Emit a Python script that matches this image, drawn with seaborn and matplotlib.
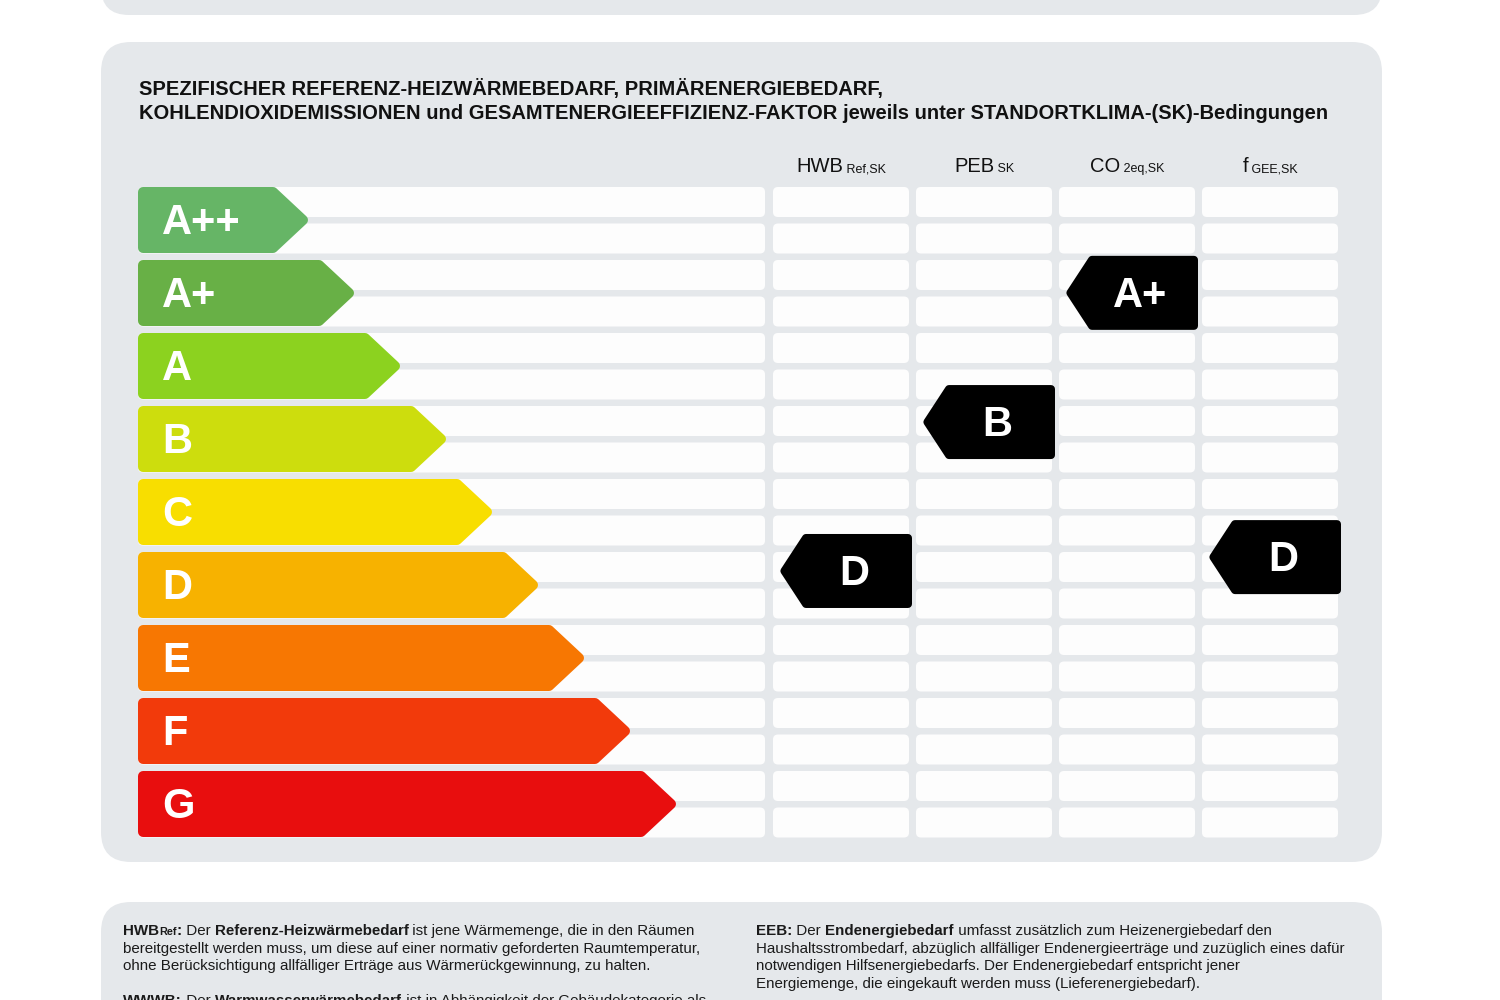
import matplotlib
matplotlib.use("Agg")
import matplotlib.pyplot as plt
import seaborn as sns
from matplotlib.patches import FancyBboxPatch, Polygon

# energy classes, top (best) to bottom (worst)
classes = ["A++", "A+", "A", "B", "C", "D", "E", "F", "G"]
class_colors = ["#66b566", "#68b046", "#8cd21f", "#cddd0d", "#f8de00",
                "#f7b200", "#f77702", "#f23a0b", "#e80e0e"]

# indicator columns
indicators = ["HWB", "PEB", "CO", "f"]
indicator_subs = ["Ref,SK", "SK", "2eq,SK", "GEE,SK"]
# marker position on the class scale (0 = top of A++, 9 = bottom of G)
indicator_pos = [5.26, 3.22, 1.45, 5.07]

title_lines = [
    "SPEZIFISCHER REFERENZ-HEIZWÄRMEBEDARF, PRIMÄRENERGIEBEDARF,",
    "KOHLENDIOXIDEMISSIONEN und GESAMTENERGIEEFFIZIENZ-FAKTOR jeweils unter STANDORTKLIMA-(SK)-Bedingungen",
]

# explanation text: (text, bold, small)
notes_left = [
    [("HWB", True, False), ("Ref", True, True), (":", True, False), (" Der ", False, False),
     ("Referenz-Heizwärmebedarf", True, False), (" ist jene Wärmemenge, die in den Räumen", False, False)],
    [("bereitgestellt werden muss, um diese auf einer normativ geforderten Raumtemperatur,", False, False)],
    [("ohne Berücksichtigung allfälliger Erträge aus Wärmerückgewinnung, zu halten.", False, False)],
    None,
    [("WWWB:", True, False), (" Der ", False, False), ("Warmwasserwärmebedarf", True, False),
     (" ist in Abhängigkeit der Gebäudekategorie als", False, False)],
]
notes_right = [
    [("EEB:", True, False), (" Der ", False, False), ("Endenergiebedarf", True, False),
     (" umfasst zusätzlich zum Heizenergiebedarf den", False, False)],
    [("Haushaltsstrombedarf, abzüglich allfälliger Endenergieerträge und zuzüglich eines dafür", False, False)],
    [("notwendigen Hilfsenergiebedarfs. Der Endenergiebedarf entspricht jener", False, False)],
    [("Energiemenge, die eingekauft werden muss (Lieferenergiebedarf).", False, False)],
]

sns.set_theme(style="white")
plt.rcParams["font.family"] = ["Liberation Sans", "DejaVu Sans"]

PANEL = "#e5e8eb"
CELL = "#fdfdfd"

fig = plt.figure(figsize=(15, 10), dpi=100)
ax = fig.add_axes([0, 0, 1, 1])
ax.set_xlim(0, 1500)
ax.set_ylim(1000, 0)
ax.axis("off")
renderer = fig.canvas.get_renderer()

ROW0 = 187
PITCH = 73
BAR_H = 66


def y_of(v):
    return ROW0 + PITCH * v


def rbox(x, y, w, h, r, color, z=1):
    ax.add_patch(FancyBboxPatch((x, y), w, h, boxstyle=f"round,pad=0,rounding_size={r}",
                                fc=color, ec="none", zorder=z))


def rounded_poly(pts, color, r, z):
    # inset polygon stroked with round joins -> rounded corners
    ax.add_patch(Polygon(pts, closed=True, fc=color, ec=color, lw=2 * r * 72 / 100,
                         joinstyle="round", zorder=z))


def seg_width(s, **kw):
    t1 = ax.text(0, 0, "|" + s + "|", **kw)
    t2 = ax.text(0, 0, "||", **kw)
    w = t1.get_window_extent(renderer).width - t2.get_window_extent(renderer).width
    t1.remove()
    t2.remove()
    return w


def rich_line(x, y, segs, size):
    for s, bold, small in segs:
        kw = dict(fontsize=size * (0.72 if small else 1.0),
                  fontweight="bold" if bold else "normal", color="#1a1a1a")
        ax.text(x, y, s, ha="left", va="baseline", zorder=5, **kw)
        x += seg_width(s, **kw)


# panels
rbox(101, -60, 1281, 75, 28, PANEL)
rbox(101, 42, 1281, 820, 30, PANEL)
rbox(101, 902, 1281, 250, 30, PANEL)

# title
for k, line in enumerate(title_lines):
    ax.text(139, 95 + 24 * k, line, fontsize=14.5, fontweight="bold", color="#111111",
            ha="left", va="baseline")

# white stripes / cells
col_x = [773, 916, 1059, 1202]
col_w = 136
n_rows = 2 * len(classes)
for k in range(n_rows):
    y = ROW0 + PITCH / 2 * k
    rbox(138, y, 627, 30, 5, CELL)
    for cx in col_x:
        rbox(cx, y, col_w, 30, 5, CELL)

# column headers
for cx, name, sub in zip(col_x, indicators, indicator_subs):
    main_kw = dict(fontsize=14.5, color="#111111")
    sub_kw = dict(fontsize=9, color="#111111")
    w1 = seg_width(name, **main_kw)
    w2 = seg_width(" " + sub, **sub_kw)
    x0 = cx + col_w / 2 - (w1 + w2) / 2
    ax.text(x0, 172, name, ha="left", va="baseline", **main_kw)
    ax.text(x0 + w1, 172, " " + sub, ha="left", va="baseline", **sub_kw)

# class arrows
r = 5
for i, (label, color) in enumerate(zip(classes, class_colors)):
    top = y_of(i)
    bot = top + BAR_H
    mid = top + BAR_H / 2
    tip = 310 + 46 * i
    body = tip - 35
    pts = [(138 + r, top + r), (body - 2, top + r), (tip - 7, mid),
           (body - 2, bot - r), (138 + r, bot - r)]
    rounded_poly(pts, color, r, 3)
    ax.text(162, mid + 3, label, fontsize=30, fontweight="bold", color="white",
            ha="left", va="center", zorder=4)

# indicator markers
mr = 4
for cx, pos in zip(col_x, indicator_pos):
    label = classes[int(pos)]
    right = cx + col_w + 3
    left = right - 134
    cy = y_of(pos)
    h = 74
    top, bot = cy - h / 2, cy + h / 2
    pts = [(left + mr * 1.6, cy), (left + 28, top + mr), (right - mr, top + mr),
           (right - mr, bot - mr), (left + 28, bot - mr)]
    rounded_poly(pts, "black", mr, 6)
    ax.text(right - 58, cy + 3, label, fontsize=30, fontweight="bold", color="white",
            ha="center", va="center", zorder=7)

# explanations
for k, segs in enumerate(notes_left):
    if segs:
        rich_line(123, 935 + 17.6 * k, segs, 10.9)
for k, segs in enumerate(notes_right):
    rich_line(756, 935 + 17.6 * k, segs, 10.9)

fig.savefig("out.png", dpi=100, facecolor="white")
